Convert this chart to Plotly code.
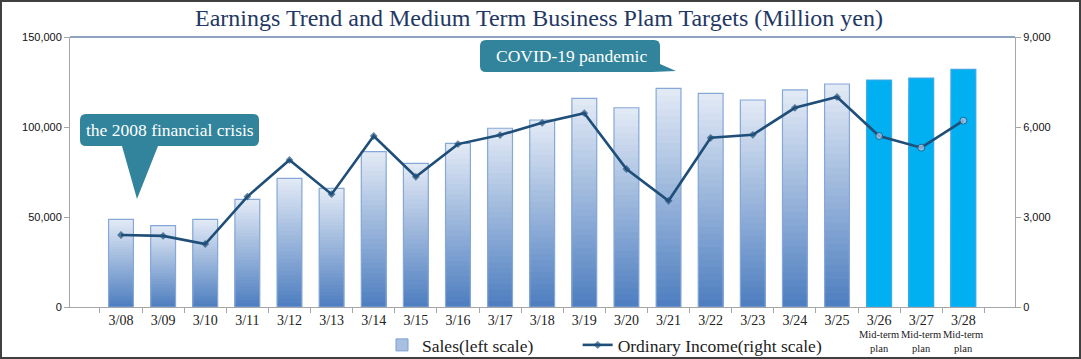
import plotly.graph_objects as go

# ---------------- data ----------------
categories = ["3/08", "3/09", "3/10", "3/11", "3/12", "3/13", "3/14", "3/15", "3/16", "3/17",
              "3/18", "3/19", "3/20", "3/21", "3/22", "3/23", "3/24", "3/25", "3/26", "3/27", "3/28"]
sales = [48700, 45200, 48700, 59800, 71500, 65900, 86300, 79800, 90900, 99300,
         103900, 115900, 110700, 121500, 118700, 115000, 120600, 123900, 126100, 127200, 132000]
ordinary_income = [2400, 2370, 2100, 3680, 4900, 3760, 5700, 4340, 5430, 5730,
                   6140, 6460, 4600, 3540, 5640, 5740, 6640, 7000, 5700, 5310, 6210]
plan_categories = ["3/26", "3/27", "3/28"]
plan_note = "Mid-term<br>plan"
left_ticks = [0, 50000, 100000, 150000]
right_ticks = [0, 3000, 6000, 9000]
title_text = "Earnings Trend and Medium Term Business Plam Targets (Million yen)"
callout_1 = "the 2008 financial crisis"
callout_2 = "COVID-19 pandemic"
sales_name = "Sales(left scale)"
income_name = "Ordinary Income(right scale)"

# ---------------- layout geometry ----------------
W, H = 1081, 359
L, R, T, B = 70, 1015, 37, 307
PW, PH = R - L, B - T


def px(x):
    return (x - L) / PW


def py(y):
    return (B - y) / PH


SERIF = "Liberation Serif, Times New Roman, serif"
SANS = "Liberation Sans, Arial, sans-serif"
TEAL = "#31849B"
NAVY = "#1F4E79"
PLAN_BLUE = "#00B0F0"

is_plan = [c in plan_categories for c in categories]


def lerp(c1, c2, t):
    a = [int(c1[i:i + 2], 16) for i in (1, 3, 5)]
    b = [int(c2[i:i + 2], 16) for i in (1, 3, 5)]
    return "#%02x%02x%02x" % tuple(round(a[i] + (b[i] - a[i]) * t) for i in range(3))


TOP_C, BOT_C = "#E1E9F5", "#4F7FC0"
N = 32

fig = go.Figure()

# gradient bars: overlaid bands, each bar light at its top and dark at its base
for k in range(N):
    frac = (N - k) / N
    col = lerp(TOP_C, BOT_C, k / (N - 1))
    fig.add_trace(go.Bar(
        x=categories, y=[v * frac for v in sales],
        marker=dict(color=[PLAN_BLUE if p else col for p in is_plan], line=dict(width=0)),
        showlegend=False, hoverinfo="skip", yaxis="y"))

# outline for the bars
fig.add_trace(go.Bar(
    x=categories, y=sales, name=sales_name,
    marker=dict(color="rgba(0,0,0,0)",
                line=dict(color=["#3FA7E6" if p else "#86A8D8" for p in is_plan], width=1.2)),
    showlegend=False, yaxis="y"))

# legend entry for sales (padded with non-breaking spaces to set the gap)
fig.add_trace(go.Bar(
    x=[None], y=[None], name=sales_name + "\u00a0" * 9,
    marker=dict(color="#A8BFE2", line=dict(color="#7D9FD2", width=1)),
    showlegend=True, yaxis="y"))

fig.add_trace(go.Scatter(
    x=categories, y=ordinary_income, name=income_name,
    mode="lines+markers", yaxis="y2",
    line=dict(color=NAVY, width=2.6),
    marker=dict(symbol=["circle" if p else "diamond" for p in is_plan],
                size=[7 if p else 6 for p in is_plan],
                color=["#B9C9E6" if p else NAVY for p in is_plan],
                line=dict(color=NAVY, width=[1 if p else 0 for p in is_plan]))))

shapes = []
# outer frame
shapes.append(dict(type="rect", xref="paper", yref="paper",
                   x0=px(1), x1=px(W - 1), y0=py(H - 1), y1=py(1),
                   line=dict(color="#404040", width=2), layer="below"))
# top border of plot
shapes.append(dict(type="line", xref="paper", yref="paper",
                   x0=0, x1=1, y0=1, y1=1, line=dict(color="#8FA4C2", width=2)))


def rounded_callout(x0, y0, x1, y1, r, tail):
    rx, ry = r / PW, r / PH
    X0, X1, Y0, Y1 = px(x0), px(x1), py(y1), py(y0)  # Y0 bottom, Y1 top (paper)
    p = f"M{X0 + rx},{Y1} L{X1 - rx},{Y1} Q{X1},{Y1} {X1},{Y1 - ry} "
    p += f"L{X1},{Y0 + ry} Q{X1},{Y0} {X1 - rx},{Y0} "
    p += tail
    p += f"L{X0 + rx},{Y0} Q{X0},{Y0} {X0},{Y0 + ry} L{X0},{Y1 - ry} Q{X0},{Y1} {X0 + rx},{Y1} Z"
    return p


tail1 = f"L{px(158)},{py(146)} L{px(137)},{py(199)} L{px(122)},{py(146)} "
path1 = rounded_callout(80, 114, 259, 146, 6, tail1)
shapes.append(dict(type="path", xref="paper", yref="paper", path=path1,
                   fillcolor=TEAL, line=dict(width=0)))

# COVID callout with tail to the right
rx2, ry2 = 6 / PW, 6 / PH
X0, X1, Yb, Yt = px(480), px(660), py(72), py(40)
path2 = (f"M{X0 + rx2},{Yt} L{X1 - rx2},{Yt} Q{X1},{Yt} {X1},{Yt - ry2} "
         f"L{X1},{py(64)} L{px(676)},{py(71)} L{px(652)},{Yb} "
         f"L{X0 + rx2},{Yb} Q{X0},{Yb} {X0},{Yb + ry2} L{X0},{Yt - ry2} Q{X0},{Yt} {X0 + rx2},{Yt} Z")
shapes.append(dict(type="path", xref="paper", yref="paper", path=path2,
                   fillcolor=TEAL, line=dict(width=0)))

annotations = [
    dict(text=callout_1, xref="paper", yref="paper", x=px(170), y=py(130),
         showarrow=False, font=dict(family=SERIF, size=17.5, color="white"),
         xanchor="center", yanchor="middle"),
    dict(text=callout_2, xref="paper", yref="paper", x=px(571), y=py(56),
         showarrow=False, font=dict(family=SERIF, size=17.5, color="white"),
         xanchor="center", yanchor="middle"),
]
for c in plan_categories:
    annotations.append(dict(text=plan_note, xref="x", yref="paper", x=c, y=py(327),
                            showarrow=False, font=dict(family=SERIF, size=10.5, color="#222"),
                            xanchor="center", yanchor="top"))

fig.update_layout(
    width=W, height=H,
    margin=dict(l=L, r=W - R, t=T, b=H - B, autoexpand=False),
    paper_bgcolor="white", plot_bgcolor="white",
    barmode="overlay", bargap=0.41,
    title=dict(text=title_text, x=539 / W, xanchor="center", y=1 - 18 / H, yanchor="middle",
               font=dict(family=SERIF, size=24, color="#1F3864")),
    xaxis=dict(type="category", categoryorder="array", categoryarray=categories,
               showline=True, linecolor="#A6A6A6", linewidth=1,
               ticks="outside", tickson="boundaries", ticklen=5, tickcolor="#A6A6A6",
               tickfont=dict(family=SERIF, size=14, color="#222"),
               showgrid=False, zeroline=False, fixedrange=True, automargin=False),
    yaxis=dict(range=[0, 150000], tickvals=left_ticks, tickformat=",",
               showline=True, linecolor="#A6A6A6", linewidth=1,
               ticks="outside", ticklen=5, tickcolor="#A6A6A6",
               tickfont=dict(family=SANS, size=11, color="#111"),
               showgrid=False, zeroline=False, automargin=False),
    yaxis2=dict(range=[0, 9000], tickvals=right_ticks, tickformat=",",
                overlaying="y", side="right",
                showline=True, linecolor="#A6A6A6", linewidth=1,
                ticks="outside", ticklen=5, tickcolor="#A6A6A6",
                tickfont=dict(family=SANS, size=11, color="#111"),
                showgrid=False, zeroline=False, automargin=False),
    legend=dict(orientation="h", x=px(382), xanchor="left", y=py(345), yanchor="middle",
                font=dict(family=SERIF, size=17.5, color="#222"),
                bgcolor="rgba(0,0,0,0)", itemwidth=30, traceorder="normal"),
    shapes=shapes, annotations=annotations,
    showlegend=True,
)

fig.write_html("out.html", config={"displayModeBar": False},
               post_script="document.body.style.margin='0';document.body.style.overflow='hidden';")
